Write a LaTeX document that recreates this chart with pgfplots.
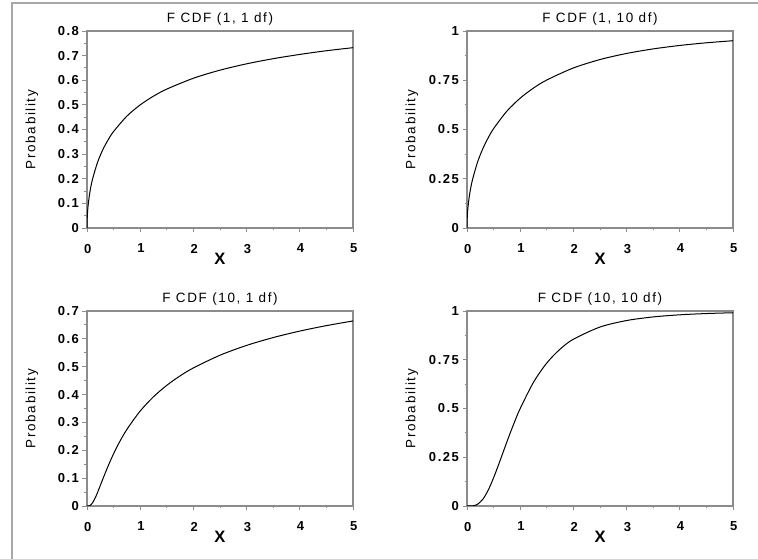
\documentclass[border=0pt]{standalone}
\usepackage{pgfplots}
\pgfplotsset{compat=1.18}
\usepackage{fontspec}
\setmainfont{Liberation Sans}
\newfontfamily\lsfont[LetterSpace=12]{Liberation Sans}
\definecolor{axgray}{HTML}{8C8C8C}
\definecolor{framegray}{HTML}{A8A8A8}
\newcommand{\fTitle}{\lsfont\fontsize{13.5pt}{15pt}\selectfont}
\newcommand{\fTick}{\lsfont\fontsize{13pt}{15pt}\selectfont\bfseries}
\newcommand{\fYlab}{\lsfont\fontsize{13.5pt}{15pt}\selectfont}
\newcommand{\fXlab}{\fontsize{16.5pt}{18pt}\selectfont\bfseries}
\pgfplotsset{
  fcdf/.style={
    scale only axis, width=266pt, height=197pt,
    xmin=0, xmax=5, ymin=0,
    axis line style={draw=axgray, line width=1.4pt},
    tick style={draw=axgray, line width=0.9pt},
    tick align=outside, major tick length=4.5pt, minor tick length=2.5pt,
    xtick pos=bottom, ytick pos=left,
    xtick={0,1,2,3,4,5}, xticklabels={0,1,2,3,4,5},
    minor x tick num=1, minor y tick num=1,
    /pgf/number format/assume math mode=true,
    ticklabel style={font=\fTick},
    xticklabel style={anchor=north, yshift=-8pt, xshift=0.8pt},
    yticklabel style={anchor=east, xshift=0pt},
    title style={font=\fTitle, at={(0.5,1)}, anchor=base, yshift=2pt},
    every axis y label/.style={at={(axis description cs:-0.207,0.5)}, rotate=90, anchor=center, font=\fYlab},
    every axis x label/.style={at={(axis description cs:0.5,-0.157)}, anchor=center, font=\fXlab},
    xlabel={X}, ylabel={Probability},
  }
}
\begin{document}
\begin{tikzpicture}
\path[use as bounding box] (0,0) rectangle (758pt,559pt);
% F CDF (1,1)
\begin{axis}[fcdf, at={(87pt,331pt)}, anchor=south west, ymax=0.8,
  ytick={0,0.1,0.2,0.3,0.4,0.5,0.6,0.7,0.8},
  yticklabels={0,0.1,0.2,0.3,0.4,0.5,0.6,0.7,0.8},
  title={F CDF (1, 1 df)}]
\addplot[black, line width=1pt, smooth] table {
x y
0 0
0.005 0.04494
0.01 0.06345
0.02 0.08944
0.05 0.14004
0.1 0.19498
0.2 0.26772
0.3 0.31909
0.4 0.35902
0.5 0.39183
0.75 0.45437
1 0.5
1.25 0.53544
1.5 0.56409
2 0.60817
2.5 0.64098
3 0.66667
3.5 0.68754
4 0.70483
4.5 0.71981
5 0.73227
};
\end{axis}
% F CDF (1,10)
\begin{axis}[fcdf, at={(467pt,331pt)}, anchor=south west, ymax=1,
  ytick={0,0.25,0.5,0.75,1}, yticklabels={0,0.25,0.5,0.75,1},
  title={F CDF (1, 10 df)}]
\addplot[black, line width=1pt, smooth] table {
x y
0 0
0.005 0.05499
0.01 0.07768
0.02 0.10966
0.05 0.17244
0.1 0.24167
0.2 0.33575
0.3 0.40411
0.4 0.45872
0.5 0.50435
0.75 0.59323
1 0.65911
1.25 0.71031
1.5 0.75126
2 0.81233
2.5 0.85507
3 0.88606
3.5 0.90912
4 0.92661
4.5 0.94011
5 0.95067
};
\end{axis}
% F CDF (10,1)
\begin{axis}[fcdf, at={(87pt,53pt)}, anchor=south west, height=195pt, ymax=0.7,
  ytick={0,0.1,0.2,0.3,0.4,0.5,0.6,0.7},
  yticklabels={0,0.1,0.2,0.3,0.4,0.5,0.6,0.7},
  title={F CDF (10, 1 df)}]
\addplot[black, line width=1pt, smooth] table {
x y
0 0
0.02 0.00003
0.05 0.00119
0.1 0.01012
0.15 0.02732
0.2 0.04933
0.3 0.09786
0.4 0.14493
0.5 0.18767
0.6 0.22575
0.75 0.27506
1 0.34089
1.25 0.39211
1.5 0.43324
1.75 0.46713
2 0.49565
2.5 0.54128
3 0.57647
3.5 0.60466
4 0.62789
4.5 0.64747
5 0.66425
};
\end{axis}
% F CDF (10,10)
\begin{axis}[fcdf, at={(467pt,53pt)}, anchor=south west, height=195pt, ymax=1,
  ytick={0,0.25,0.5,0.75,1}, yticklabels={0,0.25,0.5,0.75,1},
  title={F CDF (10, 10 df)}]
\addplot[black, line width=1pt, smooth] table {
x y
0 0
0.05 0.00003
0.1 0.00057
0.15 0.00301
0.2 0.00895
0.3 0.03545
0.4 0.08225
0.5 0.14485
0.6 0.21662
0.7 0.29163
0.8 0.36551
0.9 0.43548
1 0.5
1.25 0.63449
1.5 0.73343
1.75 0.80445
2 0.85515
2.5 0.91775
3 0.95107
3.5 0.96963
4 0.98042
4.5 0.98695
5 0.99105
};
\end{axis}
\draw[framegray, line width=1.6pt] (12pt,0pt) -- (12pt,556pt) -- (758pt,556pt);
\end{tikzpicture}
\end{document}
